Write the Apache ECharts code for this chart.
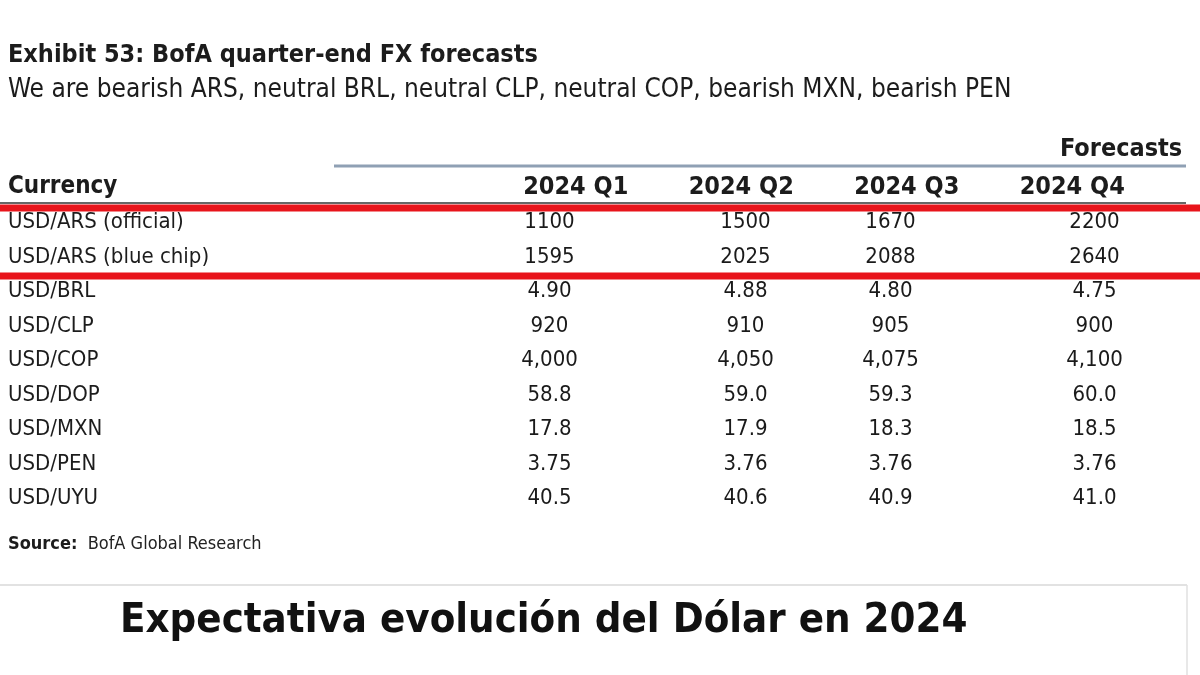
<!DOCTYPE html>
<html>
<head>
<meta charset="utf-8">
<script src="https://cdn.jsdelivr.net/npm/echarts@6/dist/echarts.min.js"></script>
<style>
html,body{margin:0;padding:0;background:#fff;}
#chart{width:1200px;height:675px;}
</style>
</head>
<body>
<div id="chart"></div>
<script>
// ---- data ----
const quarters = ['2024 Q1', '2024 Q2', '2024 Q3', '2024 Q4'];
const currencies = ['USD/ARS (official)', 'USD/ARS (blue chip)', 'USD/BRL', 'USD/CLP', 'USD/COP', 'USD/DOP', 'USD/MXN', 'USD/PEN', 'USD/UYU'];
const usdArsOfficial = [1100, 1500, 1670, 2200];
const usdArsBlueChip = [1595, 2025, 2088, 2640];
const usdBrl = [4.90, 4.88, 4.80, 4.75];
const usdClp = [920, 910, 905, 900];
const usdCop = [4000, 4050, 4075, 4100];
const usdDop = [58.8, 59.0, 59.3, 60.0];
const usdMxn = [17.8, 17.9, 18.3, 18.5];
const usdPen = [3.75, 3.76, 3.76, 3.76];
const usdUyu = [40.5, 40.6, 40.9, 41.0];
const rowDecimals = [0, 0, 2, 0, 0, 1, 1, 2, 1];
const rowGrouping = [false, false, false, false, true, false, false, false, false];
const titleText = 'Exhibit 53: BofA quarter-end FX forecasts';
const subtitleText = 'We are bearish ARS, neutral BRL, neutral CLP, neutral COP, bearish MXN, bearish PEN';
const captionText = 'Expectativa evolución del Dólar en 2024';

const rows = [usdArsOfficial, usdArsBlueChip, usdBrl, usdClp, usdCop, usdDop, usdMxn, usdPen, usdUyu];

const FONT = "'Liberation Sans Narrow', 'DejaVu Sans Condensed', sans-serif";
const INK = '#1c1c1c';

function fmt(v, r) {
  let s = v.toFixed(rowDecimals[r]);
  if (rowGrouping[r]) s = s.replace(/\B(?=(\d{3})+(?!\d))/g, ',');
  return s;
}

// per-column label nudges (layout only)
const colNudge = [7, 18, -22, -3];

const series = quarters.map(function (q, c) {
  return {
    type: 'scatter',
    name: q,
    xAxisIndex: 0,
    yAxisIndex: 0,
    symbol: 'rect',
    symbolSize: 1,
    itemStyle: { color: 'rgba(0,0,0,0)', opacity: 1 },
    silent: true,
    data: rows.map(function (vals, r) { return [c, r, vals[c]]; }),
    label: {
      show: true,
      position: 'inside',
      offset: [colNudge[c], 0],
      fontFamily: FONT,
      fontSize: 22,
      color: '#1a1a1a',
      textBorderWidth: 0,
      formatter: function (p) { return fmt(p.value[2], p.value[1]); }
    }
  };
});

const chart = echarts.init(document.getElementById('chart'), null, { renderer: 'canvas' });
chart.setOption({
  animation: false,
  backgroundColor: '#ffffff',
  title: [
    {
      text: titleText,
      subtext: subtitleText,
      left: 3,
      top: 38,
      itemGap: 9,
      textStyle: { fontFamily: FONT, fontWeight: 'bold', fontSize: 25, color: INK },
      subtextStyle: { fontFamily: FONT, fontSize: 26, color: INK }
    },
    {
      text: captionText,
      left: 115,
      top: 595,
      textStyle: { fontFamily: FONT, fontWeight: 'bold', fontSize: 41.5, color: '#111' }
    }
  ],
  grid: [
    { left: 450, right: 10, top: 205.5, height: 310.5, containLabel: false },
    { left: 493, right: 45, top: 210, height: 1, containLabel: false }
  ],
  xAxis: [
    {
      type: 'category', gridIndex: 0, data: quarters,
      axisLine: { show: false }, axisTick: { show: false }, axisLabel: { show: false }, splitLine: { show: false }
    },
    {
      type: 'category', gridIndex: 1, data: quarters, position: 'top',
      axisLine: { show: false }, axisTick: { show: false }, splitLine: { show: false },
      axisLabel: { show: true, margin: 10, fontFamily: FONT, fontWeight: 'bold', fontSize: 25, color: INK }
    }
  ],
  yAxis: [
    {
      type: 'category', gridIndex: 0, data: currencies, inverse: true,
      axisLine: { show: false }, axisTick: { show: false }, splitLine: { show: false },
      axisLabel: { show: true, align: 'left', margin: 442, fontFamily: FONT, fontSize: 22, color: INK }
    },
    {
      type: 'category', gridIndex: 1, data: [''],
      axisLine: { show: false }, axisTick: { show: false }, axisLabel: { show: false }, splitLine: { show: false }
    }
  ],
  series: series,
  graphic: [
    { type: 'line', shape: { x1: 334, y1: 166, x2: 1186, y2: 166 }, style: { stroke: '#8fa0b4', lineWidth: 3 } },
    { type: 'line', shape: { x1: 0, y1: 203, x2: 1186, y2: 203 }, style: { stroke: '#333', lineWidth: 1.5 } },
    { type: 'line', shape: { x1: 0, y1: 208, x2: 1200, y2: 208 }, style: { stroke: '#e8141b', lineWidth: 7 } },
    { type: 'line', shape: { x1: 0, y1: 276, x2: 1200, y2: 276 }, style: { stroke: '#e8141b', lineWidth: 7 } },
    { type: 'text', left: 1060, top: 137, style: { text: 'Forecasts', font: "bold 25px " + FONT, fill: INK } },
    { type: 'text', left: 8, top: 175, style: { text: 'Currency', font: "bold 24px " + FONT, fill: INK } },
    {
      type: 'text', left: 8, top: 535,
      style: {
        text: '{b|Source:}  BofA Global Research',
        rich: { b: { fontWeight: 'bold', fontFamily: FONT, fontSize: 18, fill: INK } },
        fontFamily: FONT, fontSize: 18, fill: '#222'
      }
    },
    { type: 'line', shape: { x1: 0, y1: 585, x2: 1187, y2: 585 }, style: { stroke: '#d8d8d8', lineWidth: 1.5 } },
    { type: 'line', shape: { x1: 1187, y1: 585, x2: 1187, y2: 675 }, style: { stroke: '#e0e0e0', lineWidth: 1.5 } }
  ]
});
</script>
</body>
</html>
